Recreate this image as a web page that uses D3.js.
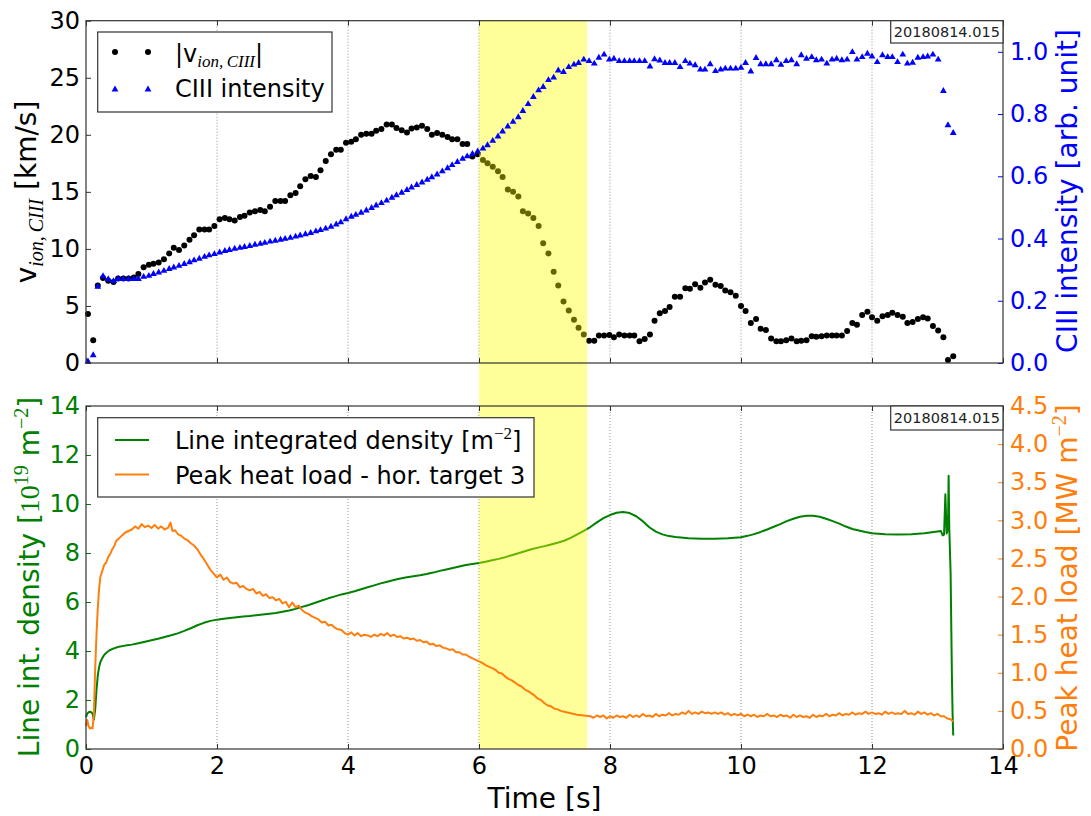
<!DOCTYPE html>
<html><head><meta charset="utf-8">
<script src="https://cdn.jsdelivr.net/npm/d3@7"></script>
<style>body{margin:0;background:#fff} text{font-family:"DejaVu Sans",sans-serif}</style>
</head><body><svg id="c" width="1091" height="816"></svg>
<script>
// ---------- DATA ----------
const sampleTimes = [
0.03,0.11,0.18,0.26,0.34,0.42,0.49,0.57,0.65,0.73,
0.80,0.88,0.96,1.03,1.11,1.19,1.27,1.34,1.42,1.50,
1.58,1.65,1.73,1.81,1.88,1.96,2.04,2.12,2.19,2.27,
2.35,2.42,2.50,2.58,2.66,2.73,2.81,2.89,2.97,3.04,
3.12,3.20,3.27,3.35,3.43,3.51,3.58,3.66,3.74,3.82,
3.89,3.97,4.05,4.12,4.20,4.28,4.36,4.43,4.51,4.59,
4.67,4.74,4.82,4.90,4.97,5.05,5.13,5.21,5.28,5.36,
5.44,5.52,5.59,5.67,5.75,5.82,5.90,5.98,6.06,6.13,
6.21,6.29,6.36,6.44,6.52,6.60,6.67,6.75,6.83,6.91,
6.98,7.06,7.14,7.21,7.29,7.37,7.45,7.52,7.60,7.68,
7.76,7.83,7.91,7.99,8.06,8.14,8.22,8.30,8.37,8.45,
8.53,8.61,8.68,8.76,8.84,8.91,8.99,9.07,9.15,9.22,
9.30,9.38,9.45,9.53,9.61,9.69,9.76,9.84,9.92,10.00,
10.07,10.15,10.23,10.30,10.38,10.46,10.54,10.61,10.69,10.77,
10.85,10.92,11.00,11.08,11.15,11.23,11.31,11.39,11.46,11.54,
11.62,11.70,11.77,11.85,11.93,12.00,12.08,12.16,12.24,12.31,
12.39,12.47,12.54,12.62,12.70,12.78,12.85,12.93,13.01,13.09,
13.16,13.24];

const ionVelocity = [
4.3,2.0,6.8,7.45,7.2,7.1,7.4,7.4,7.4,7.5,
7.8,8.4,8.6,8.7,8.8,9.1,9.6,10.1,9.9,10.3,
10.8,11.2,11.7,11.7,11.7,12.0,12.6,12.7,12.6,12.5,
12.8,12.9,13.2,13.3,13.4,13.3,13.7,14.2,14.2,14.2,
14.7,14.9,15.5,16.1,16.4,16.3,16.9,17.7,18.3,18.7,
18.7,19.3,19.4,19.6,20.0,20.1,20.1,20.35,20.5,20.9,
20.9,20.6,20.4,20.2,20.55,20.65,20.8,20.5,20.0,20.15,
20.0,19.8,19.6,19.6,19.2,19.2,18.1,18.3,17.8,17.5,
17.2,16.8,16.3,15.2,15.0,14.6,13.3,13.1,12.7,12.0,
10.5,9.6,8.0,6.8,5.4,4.6,3.8,3.1,2.5,1.96,
1.96,2.4,2.4,2.46,2.25,2.5,2.4,2.4,2.4,1.9,
2.1,2.5,3.7,4.35,4.55,4.9,5.8,5.8,6.55,6.5,
6.9,6.6,7.05,7.3,6.85,6.75,6.35,6.2,5.9,5.0,
4.55,3.5,3.85,3.0,2.9,2.15,1.9,1.9,2.0,2.15,
1.9,1.96,2.0,2.35,2.3,2.35,2.4,2.4,2.4,2.4,
2.8,3.5,3.35,4.2,4.5,4.0,3.7,4.1,4.2,4.4,
4.2,4.05,3.5,3.6,3.85,4.0,3.9,3.25,2.85,2.25,
0.26,0.6];

const ciiiIntensity = [
0.005,0.025,0.245,0.279,0.269,0.263,0.27,0.27,0.27,0.27,
0.27,0.277,0.28,0.286,0.291,0.296,0.302,0.307,0.312,0.318,
0.324,0.33,0.335,0.341,0.346,0.35,0.355,0.36,0.363,0.367,
0.37,0.373,0.376,0.38,0.383,0.386,0.39,0.393,0.396,0.399,
0.402,0.406,0.41,0.414,0.418,0.423,0.427,0.432,0.438,0.445,
0.452,0.462,0.47,0.476,0.483,0.49,0.498,0.506,0.514,0.522,
0.531,0.539,0.547,0.556,0.564,0.572,0.58,0.589,0.597,0.606,
0.616,0.626,0.636,0.646,0.656,0.664,0.672,0.68,0.689,0.70,
0.714,0.728,0.744,0.76,0.775,0.79,0.81,0.832,0.855,0.876,
0.887,0.909,0.917,0.94,0.935,0.951,0.959,0.964,0.975,0.97,
0.962,0.981,0.991,0.975,0.978,0.97,0.97,0.97,0.97,0.97,
0.97,0.953,0.976,0.972,0.964,0.964,0.964,0.951,0.97,0.962,
0.957,0.943,0.943,0.96,0.938,0.943,0.946,0.946,0.946,0.949,
0.964,0.937,0.98,0.96,0.96,0.96,0.973,0.958,0.97,0.973,
0.96,0.989,0.978,0.983,0.973,0.975,0.962,0.975,0.978,0.973,
0.975,0.999,0.975,0.983,0.994,0.985,0.967,0.989,0.983,0.983,
0.967,0.991,0.962,0.965,0.981,0.983,0.985,0.991,0.975,0.874,
0.764,0.739];

const densityTrace = [
[0.00,1.30],[0.02,1.45],[0.04,1.50],[0.06,1.52],[0.08,1.50],[0.10,1.45],[0.12,1.20],[0.14,1.60],[0.16,2.40],[0.18,3.00],
[0.20,3.35],[0.22,3.55],[0.25,3.72],[0.28,3.85],[0.32,3.95],[0.36,4.03],[0.40,4.08],[0.45,4.13],[0.50,4.17],[0.60,4.22],
[0.70,4.26],[0.80,4.32],[0.90,4.38],[1.00,4.44],[1.10,4.50],[1.20,4.57],[1.30,4.64],[1.40,4.72],[1.50,4.82],[1.60,4.93],
[1.70,5.05],[1.80,5.15],[1.90,5.23],[2.00,5.28],[2.10,5.32],[2.20,5.35],[2.30,5.38],[2.40,5.41],[2.50,5.43],[2.60,5.46],
[2.70,5.49],[2.80,5.52],[2.90,5.55],[3.00,5.60],[3.10,5.65],[3.20,5.72],[3.30,5.80],[3.40,5.88],[3.50,5.97],[3.60,6.06],
[3.70,6.15],[3.80,6.23],[3.90,6.31],[4.00,6.37],[4.10,6.44],[4.20,6.52],[4.30,6.60],[4.40,6.68],[4.50,6.76],[4.60,6.83],
[4.70,6.90],[4.80,6.96],[4.90,7.01],[5.00,7.05],[5.10,7.09],[5.20,7.14],[5.30,7.20],[5.40,7.27],[5.50,7.33],[5.60,7.39],
[5.70,7.45],[5.80,7.51],[5.90,7.55],[6.00,7.59],[6.10,7.64],[6.20,7.70],[6.30,7.76],[6.40,7.83],[6.50,7.91],[6.60,7.99],
[6.70,8.07],[6.80,8.15],[6.90,8.22],[7.00,8.28],[7.10,8.35],[7.20,8.42],[7.30,8.50],[7.40,8.62],[7.50,8.76],[7.60,8.90],
[7.70,9.06],[7.80,9.25],[7.90,9.42],[8.00,9.55],[8.10,9.64],[8.20,9.67],[8.30,9.63],[8.40,9.50],[8.50,9.30],[8.60,9.05],
[8.70,8.87],[8.80,8.76],[8.90,8.69],[9.00,8.65],[9.20,8.60],[9.40,8.58],[9.60,8.58],[9.80,8.60],[10.00,8.64],[10.10,8.70],
[10.20,8.77],[10.30,8.86],[10.40,8.96],[10.50,9.07],[10.60,9.18],[10.70,9.30],[10.80,9.40],[10.90,9.48],[11.00,9.52],[11.10,9.52],
[11.20,9.48],[11.30,9.40],[11.40,9.30],[11.50,9.20],[11.60,9.08],[11.70,8.98],[11.80,8.92],[11.90,8.86],[12.00,8.81],[12.20,8.77],
[12.40,8.76],[12.60,8.77],[12.80,8.81],[13.00,8.88],[13.05,8.90],[13.08,8.72],[13.10,8.75],[13.12,10.40],[13.14,8.80],[13.16,9.00],
[13.17,11.15],[13.18,9.00],[13.20,7.20],[13.22,3.00],[13.23,1.47],[13.24,0.55]];

const heatLoadTrace = [
[0.00,0.30],[0.02,0.38],[0.04,0.30],[0.06,0.27],[0.08,0.28],[0.10,0.27],[0.12,0.45],[0.14,1.05],[0.16,1.50],[0.18,1.85],
[0.20,2.10],[0.22,2.26],[0.25,2.34],[0.28,2.42],[0.31,2.45],[0.34,2.52],[0.37,2.56],[0.40,2.62],[0.43,2.66],[0.46,2.73],
[0.50,2.76],[0.55,2.80],[0.60,2.84],[0.65,2.86],[0.70,2.88],[0.75,2.92],[0.80,2.89],[0.85,2.95],[0.90,2.91],[0.95,2.93],
[1.00,2.90],[1.05,2.94],[1.10,2.89],[1.15,2.92],[1.20,2.88],[1.25,2.90],[1.29,2.97],[1.32,2.86],[1.36,2.87],[1.40,2.82],
[1.45,2.80],[1.50,2.76],[1.55,2.74],[1.60,2.70],[1.65,2.67],[1.70,2.62],[1.75,2.55],[1.80,2.49],[1.85,2.42],[1.90,2.35],
[1.95,2.30],[2.00,2.25],[2.05,2.29],[2.10,2.22],[2.15,2.25],[2.20,2.19],[2.25,2.17],[2.30,2.18],[2.35,2.12],[2.40,2.14],
[2.45,2.10],[2.50,2.08],[2.55,2.10],[2.60,2.04],[2.65,2.06],[2.70,2.01],[2.75,2.03],[2.80,1.98],[2.85,1.99],[2.90,1.95],
[2.95,1.97],[3.00,1.91],[3.05,1.93],[3.10,1.86],[3.15,1.92],[3.20,1.86],[3.25,1.88],[3.30,1.82],[3.35,1.79],[3.40,1.77],
[3.45,1.74],[3.50,1.72],[3.55,1.70],[3.60,1.66],[3.65,1.67],[3.70,1.62],[3.75,1.63],[3.80,1.59],[3.85,1.57],[3.90,1.56],
[3.95,1.52],[4.00,1.50],[4.05,1.53],[4.10,1.49],[4.15,1.52],[4.20,1.48],[4.25,1.50],[4.30,1.49],[4.35,1.47],[4.40,1.50],
[4.45,1.48],[4.50,1.51],[4.55,1.49],[4.60,1.52],[4.65,1.48],[4.70,1.50],[4.75,1.47],[4.80,1.48],[4.85,1.45],[4.90,1.46],
[4.95,1.44],[5.00,1.45],[5.05,1.42],[5.10,1.43],[5.15,1.40],[5.20,1.41],[5.25,1.37],[5.30,1.38],[5.35,1.35],[5.40,1.36],
[5.45,1.33],[5.50,1.32],[5.55,1.30],[5.60,1.31],[5.65,1.27],[5.70,1.27],[5.75,1.24],[5.80,1.24],[5.85,1.21],[5.90,1.19],
[5.95,1.17],[6.00,1.15],[6.05,1.13],[6.10,1.10],[6.15,1.08],[6.20,1.06],[6.25,1.04],[6.30,1.00],[6.35,0.99],[6.40,0.95],
[6.45,0.92],[6.50,0.90],[6.55,0.87],[6.60,0.84],[6.65,0.82],[6.70,0.78],[6.75,0.76],[6.80,0.73],[6.85,0.70],[6.90,0.66],
[6.95,0.64],[7.00,0.60],[7.05,0.57],[7.10,0.56],[7.15,0.53],[7.20,0.52],[7.25,0.50],[7.30,0.49],[7.40,0.47],[7.50,0.45],
[7.60,0.44],[7.70,0.43],[7.75,0.41],[7.80,0.44],[7.85,0.42],[7.90,0.44],[7.95,0.40],[8.00,0.43],[8.05,0.41],[8.10,0.44],
[8.15,0.42],[8.20,0.43],[8.25,0.41],[8.30,0.45],[8.35,0.42],[8.40,0.44],[8.45,0.42],[8.50,0.46],[8.55,0.43],[8.60,0.44],
[8.65,0.42],[8.70,0.46],[8.75,0.43],[8.80,0.45],[8.85,0.44],[8.90,0.47],[8.95,0.44],[9.00,0.46],[9.05,0.45],[9.10,0.48],
[9.15,0.46],[9.20,0.50],[9.25,0.46],[9.30,0.48],[9.35,0.46],[9.40,0.49],[9.45,0.47],[9.50,0.48],[9.55,0.46],[9.60,0.48],
[9.65,0.46],[9.70,0.48],[9.75,0.45],[9.80,0.47],[9.85,0.44],[9.90,0.46],[9.95,0.44],[10.00,0.46],[10.05,0.43],[10.10,0.45],
[10.15,0.43],[10.20,0.45],[10.25,0.42],[10.30,0.44],[10.35,0.43],[10.40,0.46],[10.45,0.43],[10.50,0.44],[10.55,0.42],[10.60,0.45],
[10.65,0.43],[10.70,0.44],[10.75,0.41],[10.80,0.45],[10.85,0.42],[10.90,0.44],[10.95,0.42],[11.00,0.43],[11.05,0.41],[11.10,0.45],
[11.15,0.42],[11.20,0.44],[11.25,0.43],[11.30,0.46],[11.35,0.43],[11.40,0.45],[11.45,0.44],[11.50,0.47],[11.55,0.44],[11.60,0.46],
[11.65,0.45],[11.70,0.48],[11.75,0.45],[11.80,0.47],[11.85,0.46],[11.90,0.49],[11.95,0.46],[12.00,0.48],[12.05,0.46],[12.10,0.47],
[12.15,0.45],[12.20,0.49],[12.25,0.46],[12.30,0.48],[12.35,0.46],[12.40,0.47],[12.45,0.46],[12.50,0.50],[12.55,0.46],[12.60,0.47],
[12.65,0.45],[12.70,0.49],[12.75,0.46],[12.80,0.48],[12.85,0.45],[12.90,0.47],[12.95,0.44],[13.00,0.46],[13.05,0.43],[13.10,0.43],
[13.15,0.40],[13.20,0.39],[13.24,0.36]];

const timeTicks = [0,2,4,6,8,10,12,14];
const velocityTicks = [0,5,10,15,20,25,30];
const intensityTicks = [0,0.2,0.4,0.6,0.8,1.0];
const densityTicks = [0,2,4,6,8,10,12,14];
const heatTicks = [0,0.5,1,1.5,2,2.5,3,3.5,4,4.5];
const highlightWindow = [6.0, 7.65];
const shotLabel = "20180814.015";

// ---------- LAYOUT ----------
const svg = d3.select("#c");
const L = 86, R = 1003;
const top1 = 20.7, bot1 = 363, top2 = 406, bot2 = 749;
const BLUE = "#0000ff", GREEN = "#008000", ORANGE = "#ff7f0e", SPINE = "#333";

const x = d3.scaleLinear().domain([0,14]).range([L,R]);
const yVel = d3.scaleLinear().domain([0,30]).range([bot1,top1]);
const yInt = d3.scaleLinear().domain([0,1.1]).range([bot1,top1]);
const yDen = d3.scaleLinear().domain([0,14]).range([bot2,top2]);
const yHeat = d3.scaleLinear().domain([0,4.5]).range([bot2,top2]);

// grid
[[top1,bot1],[top2,bot2]].forEach(([t,b])=>{
  svg.append("g").selectAll("line").data(timeTicks.filter(d=>d>0&&d<14)).join("line")
    .attr("x1",d=>x(d)).attr("x2",d=>x(d)).attr("y1",t).attr("y2",b)
    .attr("stroke","#777").attr("stroke-width",0.8).attr("stroke-dasharray","1,2");
});

// primary series
svg.append("g").selectAll("circle").data(sampleTimes).join("circle")
  .attr("cx",d=>x(d)).attr("cy",(d,i)=>yVel(ionVelocity[i])).attr("r",3).attr("fill","#000");

svg.append("path").datum(densityTrace)
  .attr("d",d3.line().x(d=>x(d[0])).y(d=>yDen(d[1])))
  .attr("fill","none").attr("stroke",GREEN).attr("stroke-width",2).attr("stroke-linejoin","round");

// highlighted window
svg.append("rect").attr("x",x(highlightWindow[0])).attr("width",x(highlightWindow[1])-x(highlightWindow[0]))
  .attr("y",top1).attr("height",bot2-top1).attr("fill","#ffff00").attr("fill-opacity",0.4);

// twin series
const tri = d3.symbol().type(d3.symbolTriangle).size(20);
svg.append("g").selectAll("path").data(sampleTimes).join("path")
  .attr("d",tri).attr("transform",(d,i)=>`translate(${x(d)},${yInt(ciiiIntensity[i])})`).attr("fill",BLUE);

svg.append("path").datum(heatLoadTrace)
  .attr("d",d3.line().x(d=>x(d[0])).y(d=>yHeat(d[1])))
  .attr("fill","none").attr("stroke",ORANGE).attr("stroke-width",2).attr("stroke-linejoin","round");

// axes
function styleAxis(g, color, tickColor){
  g.select(".domain").remove();
  g.selectAll("text").attr("fill",color).attr("font-size",24).attr("font-family","DejaVu Sans");
  g.selectAll("line").attr("stroke",tickColor).attr("stroke-width",1);
}
const fmt1 = d3.format(".1f");
styleAxis(svg.append("g").attr("transform",`translate(${L},0)`).call(d3.axisLeft(yVel).tickValues(velocityTicks).tickSize(-5).tickPadding(6)),"#000","#333");
styleAxis(svg.append("g").attr("transform",`translate(${R},0)`).call(d3.axisRight(yInt).tickValues(intensityTicks).tickFormat(fmt1).tickSize(-5).tickPadding(7)),BLUE,BLUE);
styleAxis(svg.append("g").attr("transform",`translate(${L},0)`).call(d3.axisLeft(yDen).tickValues(densityTicks).tickSize(-5).tickPadding(6)),GREEN,GREEN);
styleAxis(svg.append("g").attr("transform",`translate(${R},0)`).call(d3.axisRight(yHeat).tickValues(heatTicks).tickFormat(fmt1).tickSize(-5).tickPadding(7)),ORANGE,ORANGE);
styleAxis(svg.append("g").attr("transform",`translate(0,${bot2})`).call(d3.axisBottom(x).tickValues(timeTicks).tickSize(-5).tickPadding(8)),"#000","#333");
// tick marks without labels
svg.append("g").attr("transform",`translate(0,${top2})`).call(d3.axisTop(x).tickValues(timeTicks).tickSize(-5).tickFormat("")).call(g=>styleAxis(g,"#000","#333"));
svg.append("g").attr("transform",`translate(0,${bot1})`).call(d3.axisBottom(x).tickValues(timeTicks).tickSize(-5).tickFormat("")).call(g=>styleAxis(g,"#000","#333"));
svg.append("g").attr("transform",`translate(0,${top1})`).call(d3.axisTop(x).tickValues(timeTicks).tickSize(-5).tickFormat("")).call(g=>styleAxis(g,"#000","#333"));

// spines
[[top1,bot1],[top2,bot2]].forEach(([t,b])=>{
  svg.append("rect").attr("x",L).attr("y",t).attr("width",R-L).attr("height",b-t)
    .attr("fill","none").attr("stroke",SPINE).attr("stroke-width",1.2);
});

// axis labels
function rotLabel(cx, cy, color, parts){
  const t = svg.append("text").attr("transform",`translate(${cx},${cy}) rotate(-90)`)
    .attr("text-anchor","middle").attr("font-size",28).attr("fill",color);
  parts.forEach(p=>{
    const s = t.append("tspan").text(p.t);
    if(p.dy) s.attr("dy",p.dy);
    if(p.fs) s.attr("font-size",p.fs);
    if(p.ff) s.attr("font-family",p.ff);
    if(p.it) s.attr("font-style","italic");
  });
  return t;
}
const SERIF = "Liberation Serif";
rotLabel(36,192,"#000",[{t:"v"},{t:"ion,\u2009CIII",dy:7,fs:20,ff:SERIF,it:1},{t:" [km/s]",dy:-7}]);
rotLabel(1077,191,BLUE,[{t:"CIII intensity [arb. unit]"}]);
rotLabel(39,577,GREEN,[{t:"Line int. density ["},{t:"10",ff:SERIF},{t:"19",dy:-11,fs:20,ff:SERIF},{t:" m",dy:11},{t:"\u22122",dy:-11,fs:20,ff:SERIF},{t:"]",dy:11}]);
rotLabel(1077,578,ORANGE,[{t:"Peak heat load [MW m"},{t:"\u22122",dy:-11,fs:20,ff:SERIF},{t:"]",dy:11}]);

svg.append("text").attr("x",(L+R)/2).attr("y",808).attr("text-anchor","middle").attr("font-size",28).text("Time [s]");

// shot label boxes
[[top1,22.3,37.3],[top2,24,422.7]].forEach(([t,h,base])=>{
  svg.append("rect").attr("x",890.7).attr("y",t).attr("width",R-890.7).attr("height",h)
    .attr("fill","#fff").attr("stroke",SPINE).attr("stroke-width",1.2);
  svg.append("text").attr("x",(890.7+R)/2).attr("y",base).attr("text-anchor","middle")
    .attr("font-size",14.5).attr("fill","#222").text(shotLabel);
});

// legend top
svg.append("rect").attr("x",97.7).attr("y",32).attr("width",234.3).attr("height",80)
  .attr("fill","#fff").attr("stroke",SPINE).attr("stroke-width",1.2);
[115,148].forEach(px=>{
  svg.append("circle").attr("cx",px).attr("cy",52).attr("r",3).attr("fill","#000");
  svg.append("path").attr("d",tri).attr("transform",`translate(${px},89.5)`).attr("fill",BLUE);
});
const lt1 = svg.append("text").attr("x",175).attr("y",62).attr("font-size",24);
lt1.append("tspan").text("|v");
lt1.append("tspan").attr("dy",5).attr("font-size",17).attr("font-family",SERIF).attr("font-style","italic").text("ion,\u2009CIII");
lt1.append("tspan").attr("dy",-5).text("|");
svg.append("text").attr("x",175).attr("y",97).attr("font-size",24).text("CIII intensity");

// legend bottom
svg.append("rect").attr("x",97.7).attr("y",417.7).attr("width",436.3).attr("height",79.3)
  .attr("fill","#fff").attr("stroke",SPINE).attr("stroke-width",1.2);
svg.append("line").attr("x1",115).attr("x2",149).attr("y1",440).attr("y2",440).attr("stroke",GREEN).attr("stroke-width",2);
svg.append("line").attr("x1",115).attr("x2",149).attr("y1",474.5).attr("y2",474.5).attr("stroke",ORANGE).attr("stroke-width",2);
const lb1 = svg.append("text").attr("x",175).attr("y",448.5).attr("font-size",24);
lb1.append("tspan").text("Line integrated density [m");
lb1.append("tspan").attr("dy",-10).attr("font-size",17).attr("font-family",SERIF).text("\u22122");
lb1.append("tspan").attr("dy",10).text("]");
svg.append("text").attr("x",175).attr("y",483.5).attr("font-size",24).text("Peak heat load - hor. target 3");
</script></body></html>
